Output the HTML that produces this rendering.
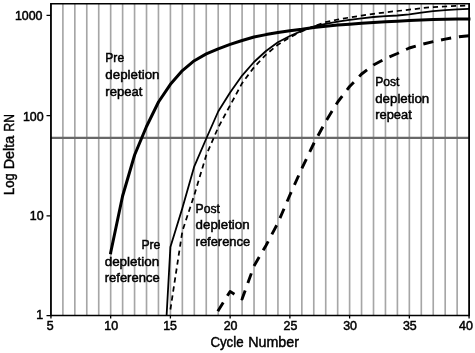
<!DOCTYPE html><html><head><meta charset="utf-8"><style>html,body{margin:0;padding:0;background:#fff}svg{display:block}text{font-family:"Liberation Sans",sans-serif;fill:#000}</style></head><body>
<svg width="475" height="353" viewBox="0 0 475 353">
<rect width="475" height="353" fill="#fff"/>
<defs><filter id="b" x="-5%" y="-5%" width="110%" height="110%"><feGaussianBlur stdDeviation="0.35"/></filter><filter id="c" x="-2%" y="-2%" width="104%" height="104%"><feGaussianBlur stdDeviation="0.4"/></filter></defs>
<g filter="url(#c)">
<path d="M62.89 3.8 V315.6 M74.83 3.8 V315.6 M86.78 3.8 V315.6 M98.73 3.8 V315.6 M110.67 3.8 V315.6 M122.62 3.8 V315.6 M134.57 3.8 V315.6 M146.52 3.8 V315.6 M158.46 3.8 V315.6 M170.41 3.8 V315.6 M182.36 3.8 V315.6 M194.30 3.8 V315.6 M206.25 3.8 V315.6 M218.20 3.8 V315.6 M230.14 3.8 V315.6 M242.09 3.8 V315.6 M254.04 3.8 V315.6 M265.99 3.8 V315.6 M277.93 3.8 V315.6 M289.88 3.8 V315.6 M301.83 3.8 V315.6 M313.77 3.8 V315.6 M325.72 3.8 V315.6 M337.67 3.8 V315.6 M349.61 3.8 V315.6 M361.56 3.8 V315.6 M373.51 3.8 V315.6 M385.46 3.8 V315.6 M397.40 3.8 V315.6 M409.35 3.8 V315.6 M421.30 3.8 V315.6 M433.24 3.8 V315.6 M445.19 3.8 V315.6 M457.14 3.8 V315.6" stroke="#a6a6a6" stroke-width="1.65" fill="none"/>
<path d="M51.0 137.9 H469.1" stroke="#686868" stroke-width="2.35" fill="none"/>
<g fill="none" stroke="#000" stroke-linejoin="round">
<path d="M110.5 254.2 L110.7 252.5 L122.6 196.0 L134.6 155.0 L146.5 126.5 L158.5 102.0 L170.4 84.3 L182.4 70.6 L194.3 60.7 L206.3 53.9 L218.2 48.8 L230.1 44.4 L242.1 40.5 L254.0 37.0 L266.0 34.6 L277.9 32.5 L289.9 30.7 L301.8 29.2 L313.8 27.4 L325.7 26.2 L337.7 25.1 L349.6 24.2 L361.6 23.3 L373.5 22.5 L385.5 21.8 L397.4 21.2 L409.3 20.5 L421.3 20.0 L433.2 19.6 L445.2 19.3 L457.1 19.1 L469.1 19.0 L470.4 19.0" stroke-width="3.0"/>
<path d="M166.6 315.5 L170.4 247.0 L182.4 208.0 L194.3 166.3 L206.3 138.5 L218.2 111.5 L230.1 92.6 L242.1 75.6 L254.0 62.0 L266.0 51.0 L277.9 42.2 L289.9 36.0 L301.8 30.9 L313.8 26.5 L325.7 23.8 L337.7 21.6 L349.6 19.9 L361.6 18.3 L373.5 17.0 L385.5 16.2 L397.4 15.5 L409.3 14.4 L421.3 12.6 L433.2 11.2 L445.2 10.2 L457.1 9.4 L469.1 8.8" stroke-width="1.8"/>
<path d="M170.4 309.5 L182.4 231.0 L194.3 195.0 L206.3 155.0 L218.2 127.5 L230.1 105.4 L242.1 83.2 L254.0 67.3 L266.0 54.6 L277.9 44.7 L289.9 37.3 L301.8 31.3 L313.8 26.3 L325.7 22.2 L337.7 19.5 L349.6 17.5 L361.6 15.6 L373.5 13.9 L385.5 12.3 L397.4 11.0 L409.3 9.7 L421.3 8.2 L433.2 7.1 L445.2 6.5 L457.1 5.9 L469.1 5.6" stroke-width="1.75" stroke-dasharray="5.2 3.87"/>
<path d="M217.8 311.2 L230.1 291.4 L242.1 299.0 L254.0 266.0 L266.0 245.5 L277.9 223.0 L289.9 195.0 L301.8 168.5 L313.8 143.5 L325.7 121.5 L337.7 102.0 L349.6 86.5 L361.6 74.0 L373.5 65.0 L385.5 58.5 L397.4 53.5 L409.3 48.0 L421.3 44.5 L433.2 41.6 L445.2 39.1 L457.1 37.0 L469.1 35.7" stroke-width="2.9" stroke-dasharray="10.3 7.85"/>
</g>
<path d="M50.95 3.05 V316.35 M469.10 3.05 V316.35" stroke="#000" stroke-width="1.8" fill="none"/>
<path d="M50.95 3.80 H469.10 M50.95 315.60 H469.10" stroke="#000" stroke-width="1.5" fill="none"/>
<path d="M46.5 15.4 H51.0 M46.5 115.6 H51.0 M46.5 215.8 H51.0 M46.5 315.6 H51.0 M50.94 315.6 V318.4 M110.67 315.6 V318.4 M170.41 315.6 V318.4 M230.14 315.6 V318.4 M289.88 315.6 V318.4 M349.61 315.6 V318.4 M409.35 315.6 V318.4 M469.08 315.6 V318.4" stroke="#000" stroke-width="1.3" fill="none"/>
</g>
<g filter="url(#b)" stroke="#000" stroke-width="0.47">
<text x="42.5" y="20.3" font-size="12.50" text-anchor="end" textLength="27.6" lengthAdjust="spacingAndGlyphs" stroke-width="0.5">1000</text>
<text x="43.6" y="120.6" font-size="12.50" text-anchor="end" textLength="20.7" lengthAdjust="spacingAndGlyphs" stroke-width="0.5">100</text>
<text x="43.6" y="220.4" font-size="12.50" text-anchor="end" textLength="13.8" lengthAdjust="spacingAndGlyphs" stroke-width="0.5">10</text>
<text x="43.2" y="319.3" font-size="12.50" text-anchor="end" textLength="6.9" lengthAdjust="spacingAndGlyphs" stroke-width="0.5">1</text>
<text x="50.1" y="330.2" font-size="12.50" text-anchor="middle" textLength="6.9" lengthAdjust="spacingAndGlyphs" stroke-width="0.5">5</text>
<text x="111.2" y="330.2" font-size="12.50" text-anchor="middle" textLength="13.8" lengthAdjust="spacingAndGlyphs" stroke-width="0.5">10</text>
<text x="170.1" y="330.2" font-size="12.50" text-anchor="middle" textLength="13.8" lengthAdjust="spacingAndGlyphs" stroke-width="0.5">15</text>
<text x="230.6" y="330.2" font-size="12.50" text-anchor="middle" textLength="13.8" lengthAdjust="spacingAndGlyphs" stroke-width="0.5">20</text>
<text x="290.4" y="330.2" font-size="12.50" text-anchor="middle" textLength="13.8" lengthAdjust="spacingAndGlyphs" stroke-width="0.5">25</text>
<text x="350.1" y="330.2" font-size="12.50" text-anchor="middle" textLength="13.8" lengthAdjust="spacingAndGlyphs" stroke-width="0.5">30</text>
<text x="409.8" y="330.2" font-size="12.50" text-anchor="middle" textLength="13.8" lengthAdjust="spacingAndGlyphs" stroke-width="0.5">35</text>
<text x="466.0" y="330.2" font-size="12.50" text-anchor="middle" textLength="13.8" lengthAdjust="spacingAndGlyphs" stroke-width="0.5">40</text>
<text x="105.3" y="62.1" font-size="12.50" text-anchor="start" textLength="18.8" lengthAdjust="spacingAndGlyphs">Pre</text>
<text x="105.3" y="79.0" font-size="12.50" text-anchor="start" textLength="54.2" lengthAdjust="spacingAndGlyphs">depletion</text>
<text x="105.3" y="95.8" font-size="12.50" text-anchor="start" textLength="37.2" lengthAdjust="spacingAndGlyphs">repeat</text>
<text x="160.4" y="248.7" font-size="12.50" text-anchor="end" textLength="19.0" lengthAdjust="spacingAndGlyphs">Pre</text>
<text x="159.2" y="265.6" font-size="12.50" text-anchor="end" textLength="54.5" lengthAdjust="spacingAndGlyphs">depletion</text>
<text x="159.7" y="282.2" font-size="12.50" text-anchor="end" textLength="55.0" lengthAdjust="spacingAndGlyphs">reference</text>
<text x="195.6" y="212.5" font-size="12.50" text-anchor="start" textLength="24.3" lengthAdjust="spacingAndGlyphs">Post</text>
<text x="195.6" y="229.1" font-size="12.50" text-anchor="start" textLength="54.0" lengthAdjust="spacingAndGlyphs">depletion</text>
<text x="195.6" y="246.0" font-size="12.50" text-anchor="start" textLength="54.6" lengthAdjust="spacingAndGlyphs">reference</text>
<text x="375.2" y="85.5" font-size="12.50" text-anchor="start" textLength="24.3" lengthAdjust="spacingAndGlyphs">Post</text>
<text x="375.2" y="102.7" font-size="12.50" text-anchor="start" textLength="54.0" lengthAdjust="spacingAndGlyphs">depletion</text>
<text x="375.2" y="118.8" font-size="12.50" text-anchor="start" textLength="36.6" lengthAdjust="spacingAndGlyphs">repeat</text>
<text x="210.4" y="347.2" font-size="14.20" text-anchor="start" textLength="33.2" lengthAdjust="spacingAndGlyphs" stroke-width="0.45">Cycle</text>
<text x="248.2" y="347.2" font-size="14.20" text-anchor="start" textLength="50.8" lengthAdjust="spacingAndGlyphs" stroke-width="0.45">Number</text>
<text transform="translate(14.3 195.0) rotate(-90)" font-size="14.2" stroke-width="0.45" text-anchor="start" textLength="21.7" lengthAdjust="spacingAndGlyphs">Log</text>
<text transform="translate(14.3 169.3) rotate(-90)" font-size="14.2" stroke-width="0.45" text-anchor="start" textLength="33.6" lengthAdjust="spacingAndGlyphs">Delta</text>
<text transform="translate(14.3 131.4) rotate(-90)" font-size="14.2" stroke-width="0.45" text-anchor="start" textLength="17.3" lengthAdjust="spacingAndGlyphs">RN</text>
</g>
</svg></body></html>
